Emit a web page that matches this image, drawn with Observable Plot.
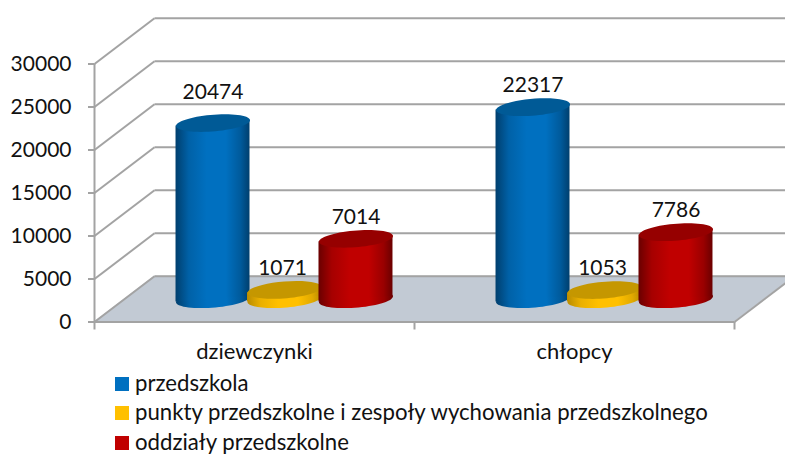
<!DOCTYPE html>
<html>
<head>
<meta charset="utf-8">
<script src="https://cdn.jsdelivr.net/npm/d3@7"></script>
<script src="https://cdn.jsdelivr.net/npm/@observablehq/plot@0.6"></script>
<style>
html,body{margin:0;padding:0;background:#fff;overflow:hidden;width:785px;height:454px}
#legend{margin-left:115px;font:22.2px Lato,sans-serif;color:#111;height:85px}
#legend div{display:flex;align-items:center;height:29.5px;white-space:nowrap}
#legend i{display:inline-block;width:14px;height:14px;margin-right:6px}
#legend span{position:relative;top:-1.5px}
svg{display:block}
</style>
</head>
<body>
<div id="chart"></div>
<div id="legend"></div>
<script>
const categories = ["dziewczynki", "chłopcy"];
const seriesNames = ["przedszkola", "punkty przedszkolne i zespoły wychowania przedszkolnego", "oddziały przedszkolne"];
const przedszkola = [20474, 22317];
const punkty = [1071, 1053];
const oddzialy = [7014, 7786];
const yTicks = [0, 5000, 10000, 15000, 20000, 25000, 30000];

const seriesValues = [przedszkola, punkty, oddzialy];
const swatch = ["#0070c0", "#ffc000", "#c00000"];
const capFill = ["#005a96", "#c59700", "#960000"];
const edgeFill = ["#003f6e", "#b98c00", "#6a0000"];

// oblique projection expressed in data units
const depthX = 0.1875, depthY = 5314;
const step = 0.2234, half = 0.1156;
const base = depthY / 2;
const lean = 337;
const xTop = depthX + 2;
const pos = (i, j) => i + 0.5 + (j - 1) * step + depthX / 2;

const rows = seriesValues.map((vals, j) => vals.map((v, i) => ({
  i, j, value: v, cx: pos(i, j), x1: pos(i, j) - half, x2: pos(i, j) + half,
  y1: base, y2: base + v, category: categories[i]
})));

// cylinder side: a slightly leaning quad between the widest points of the two caps
const side = data => data.flatMap(d => [
  {key: d.i, x: d.x1, y1: d.y1 - lean, y2: d.y2 - lean},
  {key: d.i, x: d.x2, y1: d.y1 + lean, y2: d.y2 + lean}
]);

// a circle on the floor plane seen in oblique projection
const k = 0.5523;
const capSymbol = {
  draw(c) {
    const A = 35, B = 12, C = 8.9;
    const U = [A, 0], V = [B, -C];
    const neg = p => [-p[0], -p[1]];
    const q = (p0, p1) => {
      c.bezierCurveTo(p0[0] + k * p1[0], p0[1] + k * p1[1], p1[0] + k * p0[0], p1[1] + k * p0[1], p1[0], p1[1]);
    };
    c.moveTo(U[0], U[1]);
    q(U, V); q(V, neg(U)); q(neg(U), neg(V)); q(neg(V), U);
    c.closePath();
  }
};

const grid = {stroke: "#a3a3a3", strokeWidth: 2};
const floor = [
  {x: 0, y1: 0, y2: 0},
  {x: depthX, y1: 0, y2: depthY},
  {x: 2, y1: 0, y2: depthY},
  {x: xTop, y1: depthY, y2: depthY}
];

const cylinders = rows.flatMap((data, j) => [
  Plot.dot(data, {x: "cx", y: "y1", r: 1, symbol: capSymbol, fill: `url(#g${j})`, stroke: "none"}),
  Plot.areaY(side(data), {x: "x", y1: "y1", y2: "y2", z: "key", fill: `url(#g${j})`, curve: "linear"}),
  Plot.dot(data, {x: "cx", y: "y2", r: 1, symbol: capSymbol, fill: capFill[j], stroke: "none"})
]);

const allRows = rows.flat();
const labelStyle = {x: "cx", y: "y2", text: d => String(d.value), fontSize: 21, fill: "#111"};

const svg = Plot.plot({
  width: 785, height: 369,
  marginLeft: 94, marginRight: 51, marginTop: 63.5, marginBottom: 47.5,
  style: {fontFamily: "Lato, sans-serif", background: "#fff", overflow: "hidden"},
  x: {domain: [0, 2]},
  y: {domain: [0, 30000]},
  marks: [
    Plot.areaY(floor, {x: "x", y1: "y1", y2: "y2", fill: "#c2cad4", curve: "linear"}),
    Plot.link(yTicks, {x1: 0, x2: depthX, y1: d => d, y2: d => d + depthY, ...grid}),
    Plot.link(yTicks, {x1: depthX, x2: xTop, y1: d => d + depthY, y2: d => d + depthY, ...grid}),
    Plot.link([0], {x1: 2, x2: xTop, y1: 0, y2: depthY, ...grid}),
    Plot.ruleX([0], {y1: 0, y2: 30000, ...grid}),
    Plot.ruleY([0], {x1: 0, x2: 2, ...grid}),
    Plot.axisY({ticks: yTicks, tickSize: 6, tickPadding: 17, tickFormat: d => String(d), fontSize: 21, stroke: "#a3a3a3", strokeWidth: 2, fill: "#111", label: null}),
    Plot.axisX({ticks: [0, 1, 2], tickSize: 8, tickFormat: () => "", stroke: "#a3a3a3", strokeWidth: 2, label: null}),
    Plot.axisX({ticks: [0.5, 1.5], tickSize: 0, tickPadding: 21, tickFormat: d => categories[Math.floor(d)], fontSize: 22, fill: "#111", label: null}),
    ...cylinders,
    Plot.text(allRows.filter(d => d.j === 2 || (d.j === 0 && d.i === 1)), {...labelStyle, dy: -22}),
    Plot.text(allRows.filter(d => d.j === 1), {...labelStyle, dy: -22, dx: -2}),
    Plot.text(allRows.filter(d => d.i === 0 && d.j === 0), {...labelStyle, dy: -31})
  ]
});

const defs = d3.select(svg).insert("defs", ":first-child");
swatch.forEach((c, j) => {
  const g = defs.append("linearGradient").attr("id", `g${j}`).attr("x1", 0).attr("x2", 1).attr("y1", 0).attr("y2", 0);
  [[0, edgeFill[j]], [0.18, d3.interpolateRgb(edgeFill[j], c)(0.7)], [0.42, c], [0.68, c], [0.88, d3.interpolateRgb(edgeFill[j], c)(0.55)], [1, edgeFill[j]]]
    .forEach(([o, col]) => g.append("stop").attr("offset", o).attr("stop-color", col));
});
document.getElementById("chart").append(svg);

const legend = d3.select("#legend");
seriesNames.forEach((n, j) => {
  const row = legend.append("div");
  row.append("i").style("background", swatch[j]);
  row.append("span").text(n);
});
</script>
</body>
</html>
